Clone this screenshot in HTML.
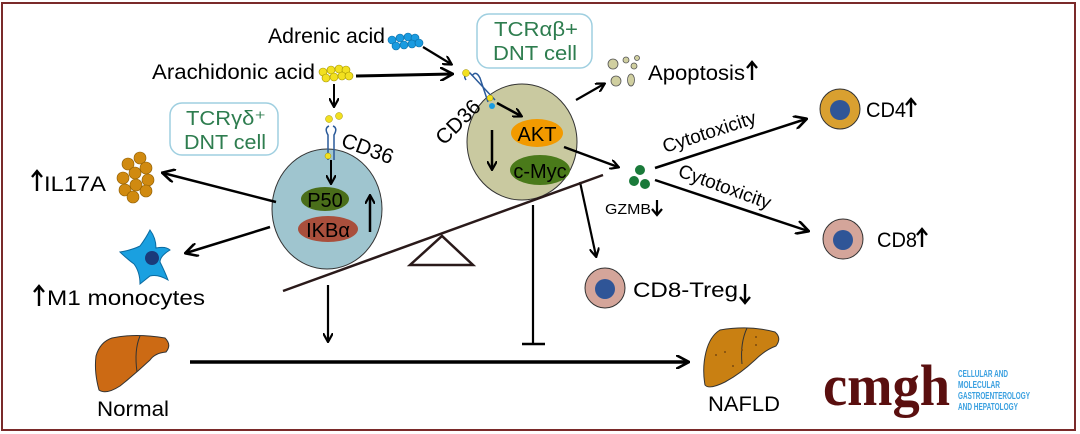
<!DOCTYPE html>
<html><head><meta charset="utf-8"><style>
html,body{margin:0;padding:0;background:#fff;}
svg{display:block;font-family:"Liberation Sans",sans-serif;}
</style></head><body>
<svg width="1080" height="434" viewBox="0 0 1080 434" xmlns="http://www.w3.org/2000/svg">
<defs>
<marker id="ah" markerWidth="10" markerHeight="10" refX="8" refY="5" orient="auto" markerUnits="userSpaceOnUse"><path d="M0,0 L9,5 L0,10" fill="none" stroke="#000" stroke-width="2.2"/></marker>
<marker id="ahb" markerWidth="14" markerHeight="14" refX="12" refY="7" orient="auto" markerUnits="userSpaceOnUse"><path d="M0,0 L13,7 L0,14" fill="none" stroke="#000" stroke-width="2.6"/></marker>
</defs>
<rect x="2" y="3" width="1073" height="427" fill="#fff" stroke="#7a2a2a" stroke-width="2"/>

<!-- boxes -->
<rect x="170" y="103" width="108" height="52" rx="12" fill="#fff" stroke="#9fcfe0" stroke-width="1.5"/>
<text x="186" y="125" font-size="20" fill="#2e7d4f" textLength="80" lengthAdjust="spacingAndGlyphs">TCRγδ⁺</text>
<text x="184" y="149" font-size="20" fill="#2e7d4f" textLength="82" lengthAdjust="spacingAndGlyphs">DNT cell</text>
<rect x="477" y="14" width="115" height="54" rx="12" fill="#fff" stroke="#9fcfe0" stroke-width="1.5"/>
<text x="494" y="36" font-size="20" fill="#2e7d4f" textLength="84" lengthAdjust="spacingAndGlyphs">TCRαβ+</text>
<text x="493" y="60" font-size="20" fill="#2e7d4f" textLength="84" lengthAdjust="spacingAndGlyphs">DNT cell</text>

<!-- acids -->
<text x="268" y="43" font-size="21" textLength="117" lengthAdjust="spacingAndGlyphs">Adrenic acid</text>
<g fill="#1a9be0" stroke="#0a6aa0" stroke-width="0.6">
<circle cx="392" cy="40" r="4"/><circle cx="400" cy="38" r="4"/><circle cx="408" cy="37" r="4"/><circle cx="415" cy="38" r="4"/>
<circle cx="396" cy="46" r="4"/><circle cx="404" cy="45" r="4"/><circle cx="412" cy="44" r="4"/><circle cx="419" cy="43" r="4"/></g>
<text x="152" y="79" font-size="21" textLength="163" lengthAdjust="spacingAndGlyphs">Arachidonic acid</text>
<g fill="#f2e020" stroke="#a09000" stroke-width="0.6">
<circle cx="323" cy="72" r="4"/><circle cx="331" cy="70" r="4"/><circle cx="339" cy="69" r="4"/><circle cx="346" cy="70" r="4"/>
<circle cx="326" cy="78" r="4"/><circle cx="334" cy="77" r="4"/><circle cx="342" cy="76" r="4"/><circle cx="349" cy="76" r="4"/></g>
<line x1="356" y1="76" x2="452" y2="74" stroke="#000" stroke-width="3" marker-end="url(#ahb)"/>
<line x1="423" y1="47" x2="451" y2="64" stroke="#000" stroke-width="2.2" marker-end="url(#ah)"/>
<line x1="334" y1="84" x2="334" y2="106" stroke="#000" stroke-width="2" marker-end="url(#ah)"/>

<!-- left cell -->
<ellipse cx="327" cy="209" rx="55" ry="60" fill="#9fc5cf" stroke="#333" stroke-width="1"/>
<ellipse cx="325" cy="199" rx="24" ry="12" fill="#4a6e1a"/>
<text x="325" y="207" font-size="20" text-anchor="middle">P50</text>
<ellipse cx="328" cy="229" rx="30" ry="13" fill="#a94f3c"/>
<text x="328" y="237" font-size="20" text-anchor="middle">IKBα</text>
<line x1="370" y1="232" x2="370" y2="196" stroke="#000" stroke-width="2.5" marker-end="url(#ah)"/>
<line x1="331" y1="160" x2="331" y2="183" stroke="#000" stroke-width="2" marker-end="url(#ah)"/>
<g fill="none" stroke="#2a5a9a" stroke-width="1.5">
<path d="M328,160 L328,135 Q324,128 329,126"/><path d="M334,160 L334,135 Q338,128 333,126"/></g>
<circle cx="329" cy="119" r="3.5" fill="#f2e020" stroke="#a09000" stroke-width="0.5"/>
<circle cx="339" cy="116" r="3.5" fill="#f2e020" stroke="#a09000" stroke-width="0.5"/>
<circle cx="328" cy="156" r="3" fill="#f2e020" stroke="#a09000" stroke-width="0.5"/>
<text x="340" y="146" font-size="21" transform="rotate(20 340 146)">CD36</text>

<!-- right cell -->
<ellipse cx="522" cy="142" rx="55" ry="58" fill="#c9c9a0" stroke="#333" stroke-width="1"/>
<ellipse cx="537" cy="133" rx="26" ry="14" fill="#f29a00"/>
<text x="537" y="141" font-size="20" text-anchor="middle">AKT</text>
<ellipse cx="540" cy="170" rx="30" ry="15" fill="#4a7a1a"/>
<text x="540" y="178" font-size="20" text-anchor="middle">c-Myc</text>
<line x1="492" y1="130" x2="492" y2="169" stroke="#000" stroke-width="2.5" marker-end="url(#ah)"/>
<line x1="497" y1="103" x2="521" y2="116" stroke="#000" stroke-width="2.5" marker-end="url(#ah)"/>
<g fill="none" stroke="#2a5a9a" stroke-width="1.5">
<path d="M466,80 Q462,74 470,73 L495,100"/><path d="M472,76 Q476,70 480,78 L488,102"/></g>
<circle cx="466" cy="73" r="3.5" fill="#f2e020" stroke="#a09000" stroke-width="0.5"/>
<circle cx="490" cy="98" r="3" fill="#f2e020" stroke="#a09000" stroke-width="0.5"/>
<circle cx="492" cy="106" r="3" fill="#1a9be0"/>
<text x="444" y="146" font-size="21" transform="rotate(-45 444 146)">CD36</text>

<!-- apoptosis -->
<line x1="576" y1="100" x2="604" y2="84" stroke="#000" stroke-width="2.2" marker-end="url(#ah)"/>
<g fill="#d0cfa0" stroke="#555" stroke-width="0.8">
<circle cx="613" cy="64" r="5"/><circle cx="626" cy="60" r="3"/><circle cx="634" cy="66" r="3"/><circle cx="637" cy="58" r="2.5"/>
<circle cx="616" cy="81" r="5"/><ellipse cx="631" cy="80" rx="3.5" ry="6"/></g>
<text x="648" y="80" font-size="21" textLength="97" lengthAdjust="spacingAndGlyphs">Apoptosis</text>
<path d="M752,80 L752,63 M747,68 L752,62 L757,68" stroke="#000" stroke-width="2.4" fill="none"/>

<!-- GZMB -->
<line x1="564" y1="147" x2="618" y2="167" stroke="#000" stroke-width="2.5" marker-end="url(#ah)"/>
<g fill="#1a7a3a"><circle cx="640" cy="170" r="5"/><circle cx="634" cy="181" r="5"/><circle cx="645" cy="184" r="5"/></g>
<text x="605" y="214" font-size="15" textLength="46" lengthAdjust="spacingAndGlyphs">GZMB</text>
<path d="M657,200 L657,214 M652,209 L657,215 L662,209" stroke="#000" stroke-width="2.2" fill="none"/>
<line x1="655" y1="168" x2="806" y2="119" stroke="#000" stroke-width="2.5" marker-end="url(#ahb)"/>
<text x="665" y="153" font-size="19" transform="rotate(-18 665 153)">Cytotoxicity</text>
<line x1="655" y1="180" x2="808" y2="231" stroke="#000" stroke-width="2.5" marker-end="url(#ahb)"/>
<text x="677" y="176" font-size="19" transform="rotate(20 677 176)">Cytotoxicity</text>

<!-- cells -->
<circle cx="840" cy="109" r="20" fill="#d9a030" stroke="#333" stroke-width="1"/><circle cx="840" cy="110" r="10" fill="#2f5597"/>
<text x="866" y="117" font-size="21" textLength="40" lengthAdjust="spacingAndGlyphs">CD4</text>
<path d="M911,117 L911,100 M906,105 L911,99 L916,105" stroke="#000" stroke-width="2.4" fill="none"/>
<circle cx="843" cy="239" r="20" fill="#d4a59a" stroke="#333" stroke-width="1"/><circle cx="843" cy="240" r="10" fill="#2f5597"/>
<text x="877" y="247" font-size="21" textLength="40" lengthAdjust="spacingAndGlyphs">CD8</text>
<path d="M922,247 L922,230 M917,235 L922,229 L927,235" stroke="#000" stroke-width="2.4" fill="none"/>
<line x1="580" y1="182" x2="596" y2="256" stroke="#000" stroke-width="2.2" marker-end="url(#ah)"/>
<circle cx="605" cy="288" r="20" fill="#d4a59a" stroke="#333" stroke-width="1"/><circle cx="605" cy="289" r="10" fill="#2f5597"/>
<text x="633" y="297" font-size="21" textLength="105" lengthAdjust="spacingAndGlyphs">CD8-Treg</text>
<path d="M745,284 L745,302 M740,297 L745,303 L750,297" stroke="#000" stroke-width="2.4" fill="none"/>

<!-- IL17A -->
<line x1="276" y1="202" x2="163" y2="173" stroke="#000" stroke-width="2.5" marker-end="url(#ahb)"/>
<g fill="#d08a10" stroke="#8a5a00" stroke-width="0.6">
<circle cx="140" cy="158" r="6"/><circle cx="128" cy="164" r="6"/><circle cx="146" cy="168" r="6"/><circle cx="135" cy="173" r="6"/>
<circle cx="123" cy="178" r="6"/><circle cx="148" cy="180" r="6"/><circle cx="136" cy="185" r="6"/><circle cx="125" cy="190" r="6"/><circle cx="146" cy="191" r="6"/><circle cx="133" cy="197" r="6"/></g>
<path d="M37,191 L37,172 M32,177 L37,171 L42,177" stroke="#000" stroke-width="2.4" fill="none"/>
<text x="44" y="191" font-size="21" textLength="62" lengthAdjust="spacingAndGlyphs">IL17A</text>

<!-- monocyte -->
<line x1="270" y1="227" x2="186" y2="253" stroke="#000" stroke-width="2.5" marker-end="url(#ahb)"/>
<path d="M150,230 Q156,238 156,248 Q166,246 170,250 Q160,256 160,262 Q165,272 168,280 Q158,274 150,276 Q145,280 140,284 Q140,272 134,264 Q126,258 120,252 Q132,250 140,246 Q146,238 150,230Z" fill="#1aa0e0" stroke="#0a6aa0" stroke-width="1"/>
<circle cx="152" cy="258" r="7" fill="#1a3a7a"/>
<path d="M39,306 L39,287 M34,292 L39,286 L44,292" stroke="#000" stroke-width="2.4" fill="none"/>
<text x="47" y="305" font-size="21" textLength="158" lengthAdjust="spacingAndGlyphs">M1 monocytes</text>

<!-- balance -->
<line x1="283" y1="291" x2="603" y2="175" stroke="#2a1a1a" stroke-width="2.5"/>
<path d="M410,265 L473,265 L442,236 Z" fill="#fff" stroke="#2a1a1a" stroke-width="2.5"/>
<line x1="328" y1="285" x2="328" y2="341" stroke="#000" stroke-width="2.2" marker-end="url(#ah)"/>
<line x1="533" y1="205" x2="533" y2="344" stroke="#000" stroke-width="2.2"/>
<line x1="522" y1="344" x2="545" y2="344" stroke="#000" stroke-width="2.5"/>

<!-- main arrow -->
<line x1="190" y1="362" x2="688" y2="362" stroke="#000" stroke-width="3.5" marker-end="url(#ahb)"/>

<!-- livers -->
<path d="M112,338 Q135,333 165,338 Q172,345 166,352 Q155,353 150,360 Q135,374 120,386 Q106,395 99,390 Q94,372 96,356 Q100,342 112,338Z" fill="#cc6a14" stroke="#333" stroke-width="1"/>
<path d="M140,336 Q134,350 137,372" fill="none" stroke="#333" stroke-width="1"/>
<text x="97" y="416" font-size="21" textLength="72" lengthAdjust="spacingAndGlyphs">Normal</text>
<path d="M720,330 Q750,325 775,332 Q782,338 776,346 Q765,350 755,360 Q740,374 725,382 Q709,390 705,385 Q702,368 706,352 Q710,336 720,330Z" fill="#c98012" stroke="#333" stroke-width="1"/>
<path d="M747,328 Q740,343 742,364" fill="none" stroke="#333" stroke-width="1"/>
<g fill="#7a4a10"><circle cx="725" cy="352" r="1"/><circle cx="733" cy="366" r="1"/><circle cx="756" cy="337" r="1"/><circle cx="756" cy="345" r="1"/><circle cx="742" cy="350" r="1"/><circle cx="716" cy="355" r="1"/></g>
<text x="708" y="411" font-size="21" textLength="72" lengthAdjust="spacingAndGlyphs">NAFLD</text>

<!-- logo -->
<text x="823" y="405" font-family="Liberation Serif,serif" font-weight="bold" font-size="58" fill="#5a0f0f" textLength="127" lengthAdjust="spacingAndGlyphs">cmgh</text>
<g font-family="Liberation Sans,sans-serif" font-size="10.5" fill="#3aa0e0" font-weight="bold">
<text x="958" y="377" textLength="50" lengthAdjust="spacingAndGlyphs">CELLULAR AND</text>
<text x="958" y="388" textLength="42" lengthAdjust="spacingAndGlyphs">MOLECULAR</text>
<text x="958" y="399" textLength="72" lengthAdjust="spacingAndGlyphs">GASTROENTEROLOGY</text>
<text x="958" y="410" textLength="60" lengthAdjust="spacingAndGlyphs">AND HEPATOLOGY</text></g>
</svg>
</body></html>
